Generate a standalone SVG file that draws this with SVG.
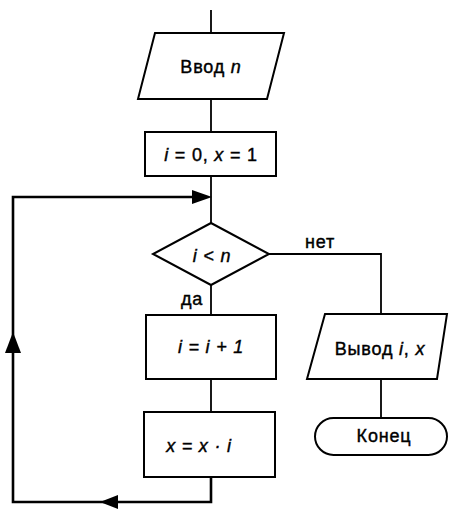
<svg xmlns="http://www.w3.org/2000/svg" width="451" height="509" viewBox="0 0 451 509">
  <style>
    .shape { fill: #fff; stroke: #000; stroke-width: 2; }
    .line { fill: none; stroke: #000; stroke-width: 1.8; }
    .loop { fill: none; stroke: #000; stroke-width: 2.6; }
    .arrow { fill: #000; stroke: none; }
    text { font-family: "Liberation Sans", Arial, sans-serif; font-size: 18px; letter-spacing: 0.8px; fill: #000; text-anchor: middle; stroke: #000; stroke-width: 0.4; }
    .it { font-style: italic; }
  </style>

  <g id="connectors">
    <line class="line" x1="211" y1="10" x2="211" y2="33"/>
    <line class="line" x1="211" y1="99" x2="211" y2="132"/>
    <line class="line" x1="211" y1="176" x2="211" y2="223"/>
    <line class="line" x1="211" y1="285" x2="211" y2="315"/>
    <line class="line" x1="211" y1="379" x2="211" y2="412"/>
    <polyline class="line" points="269,254 381,254 381,314"/>
    <line class="line" x1="381" y1="379" x2="381" y2="418"/>
    <polyline class="loop" points="211,477 211,502 13,502 13,197 204,197"/>
    <polygon class="arrow" points="212,197 192,190 192,204"/>
    <polygon class="arrow" points="100,502 118,495 118,509"/>
    <polygon class="arrow" points="13,332 5,353 21,353"/>
    <text x="320" y="248">нет</text>
    <text x="192" y="305">да</text>
  </g>

  <g id="input">
    <polygon class="shape" points="155,33 284,33 267,99 138,99"/>
    <text x="211" y="73">Ввод <tspan class="it">n</tspan></text>
  </g>

  <g id="init">
    <rect class="shape" x="145" y="132" width="131" height="44"/>
    <text x="211" y="161"><tspan class="it">i</tspan> = 0, <tspan class="it">x</tspan> = 1</text>
  </g>

  <g id="condition">
    <polygon class="shape" points="211,223 269,254 211,285 153,254"/>
    <text x="212" y="262" class="it">i &lt; n</text>
  </g>

  <g id="increment">
    <rect class="shape" x="146" y="315" width="130" height="64"/>
    <text x="211" y="353" class="it">i = i + 1</text>
  </g>

  <g id="multiply">
    <rect class="shape" x="144" y="412" width="131" height="65"/>
    <text x="199" y="452" class="it">x = x · i</text>
  </g>

  <g id="output">
    <polygon class="shape" points="325,314 447,314 437,379 307,379"/>
    <text x="380" y="355">Вывод <tspan class="it">i</tspan>, <tspan class="it">x</tspan></text>
  </g>

  <g id="end">
    <rect class="shape" x="315" y="418" width="132" height="37" rx="18.5" ry="18.5"/>
    <text x="384" y="442">Конец</text>
  </g>
</svg>
